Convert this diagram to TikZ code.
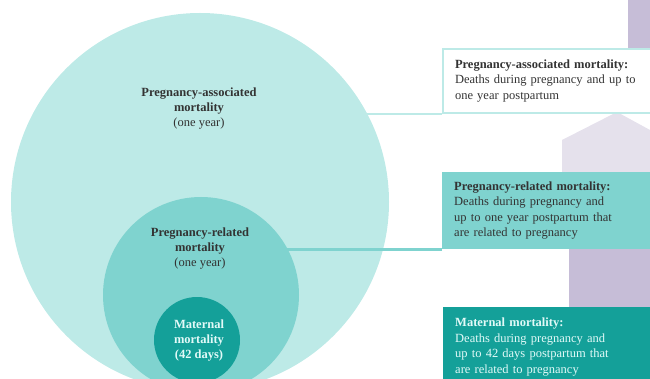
\documentclass[tikz,border=0pt]{standalone}
\usepackage{fontspec}
\setmainfont{Liberation Serif}
\usepackage{xcolor}
\definecolor{mortAssoc}{HTML}{BDEAE7}
\definecolor{mortRelated}{HTML}{7FD3CF}
\definecolor{mortMaternal}{HTML}{14A099}
\definecolor{mortText}{HTML}{333333}
\definecolor{mortLight}{HTML}{E2FAF8}
\definecolor{bgPurple}{HTML}{C6BDD7}
\definecolor{bgLavender}{HTML}{E5E1EC}
\tikzset{
  lbl/.style={align=center, text=mortText, font=\fontsize{12.5}{15}\selectfont},
  defbox/.style={anchor=north west, text width=196pt, inner xsep=12pt, align=left, text=mortText, font=\fontsize{12.5}{15.5}\selectfont},
  link/.style={line width=2.5pt}
}

\begin{document}
\begin{tikzpicture}[x=1pt, y=-1pt]
  \clip (0,0) rectangle (650,379);
  % purple shapes behind the boxes
  \fill[bgPurple] (628,0) rectangle (650,48);
  \fill[bgLavender] (562,175) -- (562,140) -- (617,112) -- (650,130) -- (650,175) -- cycle;
  \fill[bgPurple] (569,247) rectangle (650,310);
  % nested circles
  \node[circle, minimum size=378pt, inner sep=0pt, fill=mortAssoc] (bigc) at (200,202) {};
  \node[circle, minimum size=196pt, inner sep=0pt, fill=mortRelated] (midc) at (201,295) {};
  \node[circle, minimum size=86pt, inner sep=0pt, fill=mortMaternal] (smallc) at (197,340) {};
  \node[lbl] (assocLbl) at (199,109) {\textbf{Pregnancy-associated}\\\textbf{mortality}\\(one year)};
  \node[lbl] (relatedLbl) at (200,249) {\textbf{Pregnancy-related}\\\textbf{mortality}\\(one year)};
  \node[lbl, text=mortLight] (maternalLbl) at (199,341) {\textbf{Maternal}\\\textbf{mortality}\\\textbf{(42 days)}};
  % definition boxes
  \node[defbox, draw=mortAssoc, line width=2pt, fill=white, minimum height=64pt] (boxA) at (442,48)
    {\textbf{Pregnancy-associated mortality:}\\Deaths during pregnancy and up to\\one year postpartum};
  \node[defbox, fill=mortRelated, minimum height=77pt] (boxB) at (442,172)
    {\textbf{Pregnancy-related mortality:}\\Deaths during pregnancy and\\up to one year postpartum that\\are related to pregnancy};
  \node[defbox, fill=mortMaternal, text=mortLight, minimum height=80pt] (boxC) at (443,307)
    {\textbf{Maternal mortality:}\\Deaths during pregnancy and\\up to 42 days postpartum that\\are related to pregnancy};
  % connectors
  \draw[link, mortAssoc] (boxA.south west) -- (bigc.35 |- boxA.south west);
  \draw[link, mortRelated] (boxB.south west) -- (midc.35 |- boxB.south west);
\end{tikzpicture}
\end{document}
